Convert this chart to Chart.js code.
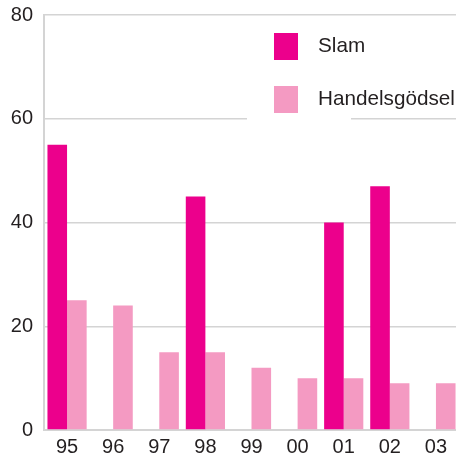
<!DOCTYPE html>
<html>
<head>
<meta charset="utf-8">
<script src="https://cdn.jsdelivr.net/npm/chart.js@4/dist/chart.umd.min.js"></script>
<style>
  html, body { margin: 0; padding: 0; background: #ffffff; overflow: hidden; }
  #wrap { width: 459px; height: 455px; position: relative; }
</style>
</head>
<body>
<div id="wrap"><canvas id="canvasGraph"></canvas></div>
<script>
// Données
var annees = ['95', '96', '97', '98', '99', '00', '01', '02', '03'];
var slam = [55, 0, 0, 45, 0, 0, 40, 47, 0];
var handelsgodsel = [25, 24, 15, 15, 12, 10, 10, 9, 9];
var ticksY = [0, 20, 40, 60, 80];

var couleurSlam = '#ec008c';
var couleurHandels = '#f49ac2';
var couleurGrille = '#d4d4d4';
var couleurTexte = '#231f20';
var police = '"Liberation Sans", Arial, sans-serif';

// Légende dessinée à la main dans la zone du graphique
var legendePlugin = {
    id: 'legendeInterne',
    afterDraw: function(chart)
    {
        var ctx = chart.ctx;
        ctx.save();
        ctx.fillStyle = '#ffffff';
        ctx.fillRect(247, 24, 104, 100);
        var y0 = [33, 86];
        chart.data.datasets.forEach(function(ds, i)
        {
            ctx.fillStyle = ds.backgroundColor;
            ctx.fillRect(274, y0[i], 24, 27);
            ctx.fillStyle = couleurTexte;
            ctx.font = '20.7px ' + police;
            ctx.textBaseline = 'middle';
            ctx.textAlign = 'left';
            ctx.fillText(ds.label, 318, y0[i] + 13);
        });
        ctx.restore();
    }
};

var graph = new Chart(document.getElementById('canvasGraph'), {
    type: 'bar',
    data: {
        labels: annees,
        datasets: [
            {
                label: 'Slam',
                backgroundColor: couleurSlam,
                data: slam
            },
            {
                label: 'Handelsgödsel',
                backgroundColor: couleurHandels,
                data: handelsgodsel
            }
        ]
    },
    options: {
        responsive: true,
        maintainAspectRatio: false,
        animation: false,
        layout: { padding: { top: 15, right: 0, left: 0, bottom: 0 } },
        datasets: {
            bar: { categoryPercentage: 0.85, barPercentage: 1.0 }
        },
        plugins: {
            legend: { display: false },
            tooltip: { enabled: false }
        },
        scales: {
            x: {
                grid: { display: false, drawTicks: false },
                border: { display: true, color: couleurGrille, width: 2 },
                ticks: {
                    color: couleurTexte,
                    padding: 5,
                    font: { family: police, size: 20 }
                },
                afterFit: function(scale)
                {
                    scale.height = 25;
                    scale.paddingLeft = 0;
                    scale.paddingRight = 0;
                }
            },
            y: {
                min: 0,
                max: 80,
                afterBuildTicks: function(scale)
                {
                    scale.ticks = ticksY.map(function(v) { return { value: v }; });
                },
                grid: { color: couleurGrille, lineWidth: 1.5, drawTicks: false },
                border: { display: true, color: couleurGrille, width: 2 },
                ticks: {
                    color: couleurTexte,
                    padding: 11,
                    font: { family: police, size: 20 }
                },
                afterFit: function(scale)
                {
                    scale.width = 44;
                    scale.paddingTop = 0;
                    scale.paddingBottom = 0;
                }
            }
        }
    },
    plugins: [legendePlugin]
});
</script>
</body>
</html>
